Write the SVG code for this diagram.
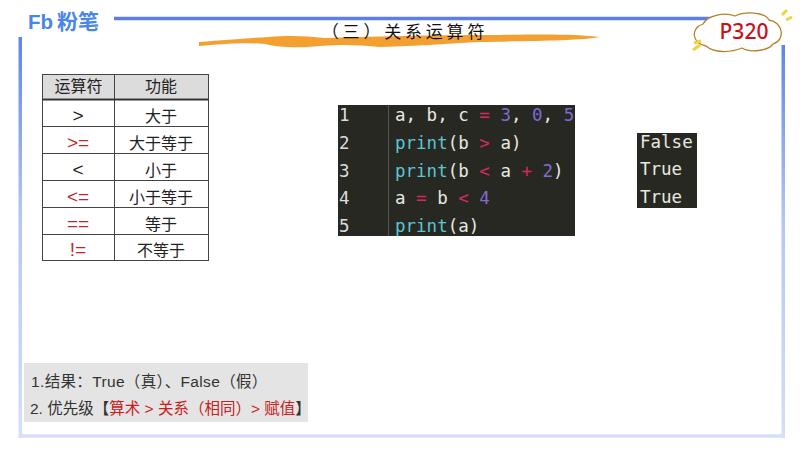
<svg xmlns="http://www.w3.org/2000/svg" width="800" height="450" viewBox="0 0 800 450">
<defs>
<linearGradient id="side" x1="0" y1="0" x2="0" y2="1"><stop offset="0" stop-color="#5f85ea"/><stop offset="0.45" stop-color="#b4c6f5"/><stop offset="1" stop-color="#d5dffa"/></linearGradient>
</defs>
<style>
.cjk{font-family:"Liberation Sans","Noto Sans CJK SC",sans-serif}
.t{font-size:16px;fill:#222;text-anchor:middle}
.o{font-size:19px;fill:#222;text-anchor:middle}
.d{fill:#c0272d}
.m{font-family:"DejaVu Sans Mono","Liberation Mono",monospace;font-size:17.5px;fill:#e8e8e0}
.g{fill:#ddd}
.n{fill:#7e6cd0}.k{fill:#d8285f}.f{fill:#5cc4d4}
.l{stroke:#444;stroke-width:1;fill:none}
</style>
<rect width="800" height="450" fill="#fff"/>
<g id="frame">
<rect x="18.500" y="37" width="3.500" height="401" fill="url(#side)"/>
<rect x="781.500" y="45" width="3.500" height="393" fill="url(#side)"/>
<path d="M20 436H783" stroke="#d5dffa" stroke-width="3.500" fill="none"/>
<path d="M114 18.500H720" stroke="#5b7fe6" stroke-width="3.500" fill="none"/>
</g>
<g id="logo">
<text x="28" y="29" font-family="Liberation Sans,sans-serif" font-weight="700" font-size="20.500" fill="#4a86ea">Fb</text>
<text x="57" y="29" class="cjk" font-weight="700" font-size="21" fill="#4a86ea">粉笔</text>
</g>
<g id="title">
<path d="M199 42C225 40 250 38 268 37C290 35 305 36 325 38C380 36 450 35 500 35C540 34 580 34 600 37C580 41 520 41 480 42C440 44 420 46 380 47C360 45 340 44 320 46C300 48 280 48 265 44C240 42 220 44 199 46Z" fill="#f4a030"/>
<text x="405" y="38" class="cjk" font-size="17" fill="#111" text-anchor="middle" letter-spacing="3.800">（三）关系运算符</text>
</g>
<g id="badge">
<path d="M706 46C692 44 690 28 703 24C708 15 725 12 735 16C745 11 765 12 769 20C783 22 786 40 773 44C768 51 750 53 742 48C730 53 714 53 706 46Z" fill="#fff" stroke="#b8802a" stroke-width="1.300"/>
<path d="M782 15L787 10M786 20L792 17M694 43L701 41M693 50L700 45" stroke="#eed33c" stroke-width="3" fill="none"/>
<text x="744" y="39" font-family="Noto Sans,Liberation Sans,sans-serif" font-size="21" font-weight="500" fill="#c8101c" text-anchor="middle">P320</text>
</g>
<g id="operator-table">
<rect x="42.500" y="74.500" width="166" height="24" fill="#dcdcdc"/>
<rect x="42.500" y="74.500" width="166" height="186" class="l"/>
<path d="M114.500 74.500V260.500M42.500 126.500H208.500M42.500 153.500H208.500M42.500 180.500H208.500M42.500 207.500H208.500M42.500 234.500H208.500" class="l"/>
<path d="M42.500 99.500H208.500" stroke="#333" stroke-width="2"/>
<text x="78.500" y="92" class="cjk t">运算符</text><text x="161" y="92" class="cjk t">功能</text>
<text x="78" y="122" class="cjk o">&gt;</text><text x="161" y="122" class="cjk t">大于</text>
<text x="78" y="149" class="cjk o d">&gt;=</text><text x="161" y="149" class="cjk t">大于等于</text>
<text x="78" y="176" class="cjk o">&lt;</text><text x="161" y="176" class="cjk t">小于</text>
<text x="78" y="203" class="cjk o d">&lt;=</text><text x="161" y="203" class="cjk t">小于等于</text>
<text x="78" y="230" class="cjk o d">==</text><text x="161" y="230" class="cjk t">等于</text>
<text x="78" y="256" class="cjk o d">!=</text><text x="161" y="256" class="cjk t">不等于</text>
</g>
<g id="code">
<rect x="338" y="105" width="237" height="131" fill="#272822"/>
<path d="M388.500 105V236" stroke="#55564f"/>
<text x="339" y="121" class="m g">1</text>
<text x="339" y="149" class="m g">2</text>
<text x="339" y="177" class="m g">3</text>
<text x="339" y="204" class="m g">4</text>
<text x="339" y="232" class="m g">5</text>
<text x="395" y="121" class="m" xml:space="preserve">a, b, c <tspan class="k">=</tspan> <tspan class="n">3</tspan>, <tspan class="n">0</tspan>, <tspan class="n">5</tspan></text>
<text x="395" y="149" class="m" xml:space="preserve"><tspan class="f">print</tspan>(b <tspan class="k">&gt;</tspan> a)</text>
<text x="395" y="177" class="m" xml:space="preserve"><tspan class="f">print</tspan>(b <tspan class="k">&lt;</tspan> a <tspan class="k">+</tspan> <tspan class="n">2</tspan>)</text>
<text x="395" y="204" class="m" xml:space="preserve">a <tspan class="k">=</tspan> b <tspan class="k">&lt;</tspan> <tspan class="n">4</tspan></text>
<text x="395" y="232" class="m" xml:space="preserve"><tspan class="f">print</tspan>(a)</text>
</g>
<g id="output">
<rect x="637" y="133" width="60" height="75" fill="#272822"/>
<text x="640" y="148" class="m">False</text>
<text x="640" y="175" class="m">True</text>
<text x="640" y="203" class="m">True</text>
</g>
<g id="note">
<rect x="24" y="363" width="284" height="59" fill="#e4e4e4"/>
<text x="31" y="387" class="cjk" font-size="15.500" letter-spacing="0.350" fill="#333">1.结果：True（真）、False（假）</text>
<text x="30" y="414" class="cjk" font-size="15.500" fill="#333">2. 优先级【<tspan fill="#c8201c">算术 &gt; 关系（相同）&gt; 赋值</tspan>】</text>
</g>
</svg>
